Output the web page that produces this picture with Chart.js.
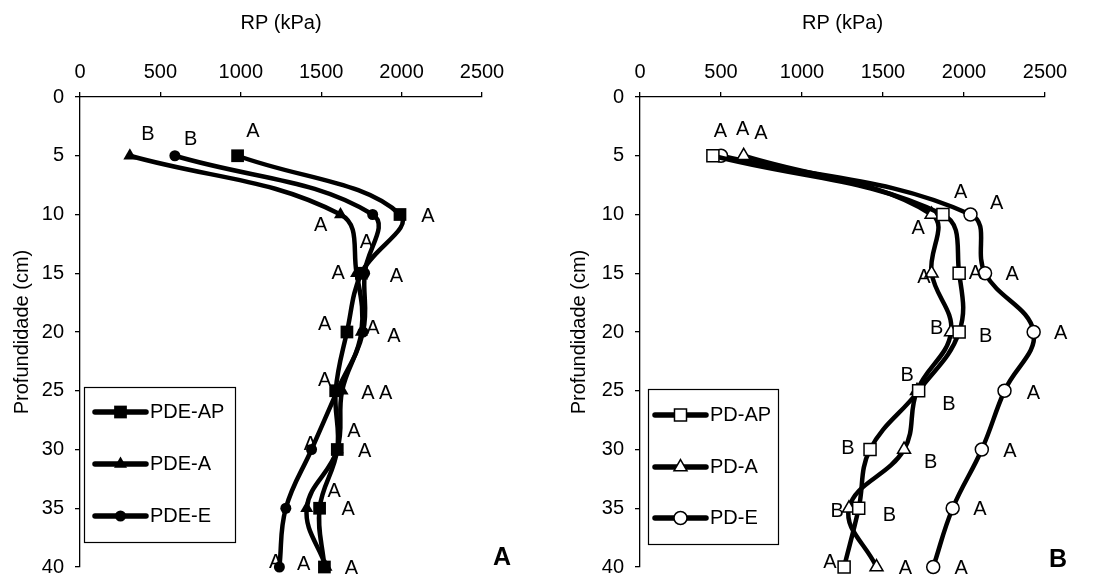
<!DOCTYPE html>
<html>
<head>
<meta charset="utf-8">
<script src="https://cdn.jsdelivr.net/npm/chart.js@4/dist/chart.umd.min.js"></script>
<style>
  body { margin: 0; background: #fff; }
  .wrap { position: relative; width: 1108px; height: 577px; }
  .box { position: absolute; top: 0; width: 554px; height: 577px; }
</style>
</head>
<body>
<div class="wrap">
  <div class="box" style="left:0"><canvas id="chartA"></canvas></div>
  <div class="box" style="left:554px"><canvas id="chartB"></canvas></div>
</div>
<script>
// profundidade (cm)
const depths = [5, 10, 15, 20, 25, 30, 35, 40];

// painel A - RP (kPa)
const pdeAP = [980, 1990, 1750, 1660, 1590, 1600, 1490, 1520];
const pdeA  = [310, 1620, 1720, 1750, 1630, 1600, 1410, 1530];
const pdeE  = [590, 1820, 1770, 1760, 1600, 1440, 1280, 1240];

// painel B - RP (kPa)
const pdAP = [450, 1870, 1970, 1970, 1720, 1420, 1350, 1260];
const pdA  = [640, 1800, 1800, 1920, 1710, 1630, 1290, 1460];
const pdE  = [500, 2040, 2130, 2430, 2250, 2110, 1930, 1810];

const xTicks = [0, 500, 1000, 1500, 2000, 2500];
const yTicks = [0, 5, 10, 15, 20, 25, 30, 35, 40];

// letras de significancia (texto, RP, profundidade onde aparecem)
const lettersA = ['B','B','A','A','A','A','A','A','A','A','A','A','A','A','A','A','A','A','A','A','A','A'];
const lettersAx = [423, 688, 1076, 2164, 1497, 1781, 1605, 1968, 1522, 1822, 1953, 1522, 1791, 1901, 1704, 1433, 1771, 1580, 1667, 1217, 1391, 1688];
const lettersAy = [3.2, 3.6, 2.9, 10.2, 10.9, 12.4, 15.0, 15.3, 19.4, 19.7, 20.4, 24.1, 25.2, 25.2, 28.5, 29.6, 30.2, 33.6, 35.1, 39.6, 39.8, 40.1];

const lettersB = ['A','A','A','A','A','A','A','A','A','B','B','A','B','A','B','B','A','B','B','B','A','A','A','A'];
const lettersBx = [497, 634, 747, 1979, 2201, 1717, 1752, 2071, 2298, 1831, 2133, 2597, 1649, 2428, 1907, 1283, 2284, 1794, 1217, 1540, 2098, 1172, 1639, 1983];
const lettersBy = [2.9, 2.8, 3.1, 8.1, 9.1, 11.2, 15.4, 15.05, 15.1, 19.7, 20.4, 20.1, 23.7, 25.2, 26.2, 29.9, 30.2, 31.1, 35.3, 35.6, 35.1, 39.6, 40.1, 40.1];

const FONT = 'Liberation Sans, Arial, sans-serif';
const FS = 20;

function pts(vals) {
  return vals.map((v, i) => ({ x: v, y: depths[i] }));
}

function series(label, vals, style, radius, fill) {
  return {
    label: label,
    data: pts(vals),
    showLine: true,
    borderColor: '#000',
    borderWidth: 4.5,
    tension: 0.4,
    pointStyle: style,
    pointRadius: radius,
    pointHoverRadius: radius,
    pointBackgroundColor: fill,
    pointBorderColor: '#000',
    pointBorderWidth: fill === '#000' ? 0 : 1.5,
    clip: false,
  };
}

// letras + legenda + letra do painel
const extras = {
  id: 'extras',
  afterDraw(chart, args, o) {
    const ctx = chart.ctx;
    const sx = chart.scales.x, sy = chart.scales.y;
    ctx.save();
    ctx.fillStyle = '#000';
    ctx.font = FS + 'px ' + FONT;
    ctx.textAlign = 'center';
    ctx.textBaseline = 'middle';
    o.letters.forEach((t, i) => {
      ctx.fillText(t, sx.getPixelForValue(o.lx[i]), sy.getPixelForValue(o.ly[i]));
    });

    // legenda
    const b = o.legend;
    ctx.fillStyle = '#fff';
    ctx.fillRect(b.x, b.y, b.w, b.h);
    ctx.strokeStyle = '#000';
    ctx.lineWidth = 1.2;
    ctx.strokeRect(b.x + 0.5, b.y + 0.5, b.w, b.h);
    chart.data.datasets.forEach((ds, i) => {
      const y = b.rows[i];
      ctx.strokeStyle = '#000';
      ctx.lineWidth = 5.5;
      ctx.lineCap = 'round';
      ctx.beginPath();
      ctx.moveTo(b.x1, y);
      ctx.lineTo(b.x2, y);
      ctx.stroke();
      ctx.fillStyle = ds.pointBackgroundColor;
      ctx.lineWidth = ds.pointBorderWidth;
      Chart.helpers.drawPoint(ctx, {
        pointStyle: ds.pointStyle,
        radius: ds.pointRadius,
        borderWidth: ds.pointBorderWidth,
        rotation: 0
      }, (b.x1 + b.x2) / 2, y);
      ctx.fillStyle = '#000';
      ctx.font = FS + 'px ' + FONT;
      ctx.textAlign = 'left';
      ctx.textBaseline = 'middle';
      ctx.fillText(ds.label, b.tx, y);
    });

    ctx.font = 'bold 25px ' + FONT;
    ctx.textAlign = 'center';
    ctx.fillText(o.panel, o.panelX, o.panelY);
    ctx.restore();
  }
};

function makeChart(id, datasets, yWidth, padRight, yTitlePad, ext) {
  return new Chart(document.getElementById(id), {
    type: 'scatter',
    data: { datasets: datasets },
    plugins: [extras],
    options: {
      responsive: false,
      animation: false,
      devicePixelRatio: 1,
      layout: { padding: { top: 0, right: padRight, bottom: 10, left: 0 } },
      plugins: {
        legend: { display: false },
        tooltip: { enabled: false },
        extras: ext,
      },
      scales: {
        x: {
          type: 'linear',
          position: 'top',
          min: 0,
          max: 2500,
          afterBuildTicks: s => { s.ticks = xTicks.map(v => ({ value: v })); },
          afterFit: s => { s.height = 97; s.paddingLeft = 0; s.paddingRight = 0; },
          ticks: { color: '#000', font: { family: FONT, size: FS }, padding: 8, callback: v => String(v) },
          grid: { drawOnChartArea: false, drawTicks: true, tickLength: 5, color: '#000', lineWidth: 1.3 },
          border: { color: '#000', width: 1.3 },
          title: { display: true, text: 'RP (kPa)', color: '#000', font: { family: FONT, size: FS }, padding: { top: 11, bottom: 0 } },
        },
        y: {
          type: 'linear',
          reverse: true,
          min: 0,
          max: 40,
          afterBuildTicks: s => { s.ticks = yTicks.map(v => ({ value: v })); },
          afterFit: s => { s.width = yWidth; s.paddingTop = 0; s.paddingBottom = 0; },
          ticks: { color: '#000', font: { family: FONT, size: FS }, padding: 11, callback: v => String(v) },
          grid: { drawOnChartArea: false, drawTicks: true, tickLength: 5, color: '#000', lineWidth: 1.3 },
          border: { color: '#000', width: 1.3 },
          title: { display: true, text: 'Profundidade (cm)', color: '#000', font: { family: FONT, size: FS }, padding: { top: yTitlePad, bottom: 0 } },
        }
      }
    }
  });
}

document.getElementById('chartA').width = 554;
document.getElementById('chartA').height = 577;
document.getElementById('chartB').width = 554;
document.getElementById('chartB').height = 577;

makeChart('chartA', [
  series('PDE-AP', pdeAP, 'rect', 9, '#000'),
  series('PDE-A', pdeA, 'triangle', 7.5, '#000'),
  series('PDE-E', pdeE, 'circle', 5.5, '#000'),
], 80, 72, 10, {
  letters: lettersA, lx: lettersAx, ly: lettersAy,
  legend: { x: 84, y: 387, w: 151, h: 155, rows: [412, 464, 516], x1: 95, x2: 146, tx: 150 },
  panel: 'A', panelX: 502, panelY: 558,
});

makeChart('chartB', [
  series('PD-AP', pdAP, 'rect', 8.5, '#fff'),
  series('PD-A', pdA, 'triangle', 7.5, '#fff'),
  series('PD-E', pdE, 'circle', 6.5, '#fff'),
], 86, 63, 13, {
  letters: lettersB, lx: lettersBx, ly: lettersBy,
  legend: { x: 94, y: 389, w: 130, h: 155, rows: [415, 467, 518], x1: 101, x2: 152, tx: 156 },
  panel: 'B', panelX: 504, panelY: 560,
});
</script>
</body>
</html>
